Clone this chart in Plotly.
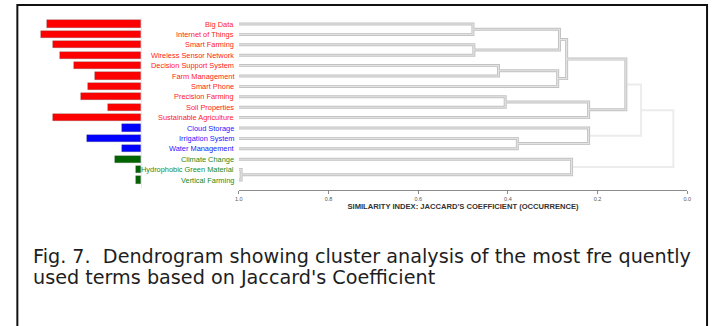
import plotly.graph_objects as go

W, H = 715, 326

# ---------------- data ----------------
terms = ["Big Data", "Internet of Things", "Smart Farming", "Wireless Sensor Network",
         "Decision Support System", "Farm Management", "Smart Phone", "Precision Farming",
         "Soil Properties", "Sustainable Agriculture", "Cloud Storage", "Irrigation System",
         "Water Management", "Climate Change", "Hydrophobic Green Material", "Vertical Farming"]
groups = ["red"] * 10 + ["blue"] * 3 + ["green"] * 3
occurrence = [96, 102, 89, 82, 68, 47, 54, 61, 34, 89, 20, 55, 20, 27, 6, 6]

# hierarchical merges (leaves 0..15, new clusters numbered 16..)
merge_left = [0, 2, 4, 16, 18, 19, 7, 22, 21, 11, 10, 24, 14, 13, 27]
merge_right = [1, 3, 5, 17, 6, 20, 8, 9, 23, 12, 25, 26, 15, 28, 29]
merge_sim = [0.478, 0.476, 0.421, 0.285, 0.289, 0.269, 0.406, 0.220, 0.137,
             0.379, 0.220, 0.103, 0.995, 0.258, 0.031]
merge_faint = [False] * 11 + [True, False, False, True]

sim_ticks = [1.0, 0.8, 0.6, 0.4, 0.2, 0.0]
tick_text = ["1.0", "0.8", "0.6", "0.4", "0.2", "0.0"]

caption_lines = ["Fig. 7.  Dendrogram showing cluster analysis of the most fre quently",
                 "used terms based on Jaccard's Coefficient"]

bar_colors = {"red": "#ff0000", "blue": "#0000ff", "green": "#006400"}
label_colors = {"red": "#ff2020", "blue": "#2020ff", "green": "#1a8a1a"}

# ---------------- layout geometry ----------------
row0, pitch = 24.0, 10.4
y_top = -row0 / pitch
y_bot = (H - row0) / pitch

fig = go.Figure()

idx = list(range(len(terms)))
fig.add_trace(go.Bar(
    x=occurrence, y=idx, orientation="h", xaxis="x", yaxis="y",
    marker=dict(color=[bar_colors[g] for g in groups],
                line=dict(color="rgba(90,90,90,0.45)", width=0.6)),
    width=0.68, hoverinfo="skip", showlegend=False))
fig.add_trace(go.Scatter(x=[0, 0], y=[-0.6, 15.8], mode="lines", xaxis="x", yaxis="y",
                         line=dict(color="#cccccc", width=1), hoverinfo="skip", showlegend=False))

n = len(terms)
pos = {i: float(i) for i in range(n)}
hgt = {i: 1.0 for i in range(n)}
seg_x = {False: [], True: []}
seg_y = {False: [], True: []}
for k, (a, b, s, f) in enumerate(zip(merge_left, merge_right, merge_sim, merge_faint)):
    c = n + k
    seg_x[f] += [hgt[a], s, s, hgt[b], None]
    seg_y[f] += [pos[a], pos[a], pos[b], pos[b], None]
    pos[c] = (pos[a] + pos[b]) / 2
    hgt[c] = s

fig.add_trace(go.Scatter(x=seg_x[True], y=seg_y[True], mode="lines", xaxis="x2", yaxis="y",
                         line=dict(color="#ececec", width=2), hoverinfo="skip", showlegend=False))
fig.add_trace(go.Scatter(x=seg_x[False], y=seg_y[False], mode="lines", xaxis="x2", yaxis="y",
                         line=dict(color="#c2c2c2", width=3), hoverinfo="skip", showlegend=False))
fig.add_trace(go.Scatter(x=seg_x[False], y=seg_y[False], mode="lines", xaxis="x2", yaxis="y",
                         line=dict(color="#e4e4e4", width=1.1), hoverinfo="skip", showlegend=False))

annotations = []
for i, (t, g) in enumerate(zip(terms, groups)):
    annotations.append(dict(text=t, x=235 / W, xref="paper", y=i, yref="y",
                            xanchor="right", yanchor="middle", showarrow=False,
                            font=dict(family="Liberation Sans, Arial", size=7.4,
                                      color=label_colors[g])))

for line, base in zip(caption_lines, [261.5, 283.0]):
    annotations.append(dict(
        text=line, x=27 / W, xref="paper", y=1 - (base - 5.5) / H, yref="paper",
        xanchor="left", yanchor="middle", align="left", showarrow=False,
        font=dict(family="DejaVu Sans", size=19.2, color="#1e1e1e")))

fig.update_layout(
    width=W, height=H, margin=dict(l=0, r=0, t=0, b=0),
    paper_bgcolor="white", plot_bgcolor="rgba(0,0,0,0)",
    showlegend=False, bargap=0,
    xaxis=dict(domain=[0, 139 / W], range=[139, 0], visible=False, fixedrange=True),
    xaxis2=dict(domain=[237.5 / W, 691 / W], range=[1, 0], anchor="free",
                position=1 - 190 / H, showline=True, linecolor="#8a8a8a", linewidth=1,
                ticks="outside", ticklen=3, tickcolor="#8a8a8a", showgrid=False,
                zeroline=False, tickvals=sim_ticks, ticktext=tick_text,
                tickfont=dict(family="Liberation Sans, Arial", size=5.5, color="#555"),
                title=dict(text="<b>SIMILARITY INDEX: JACCARD'S COEFFICIENT (OCCURRENCE)</b>",
                           font=dict(family="Liberation Sans, Arial", size=7.6, color="#333"),
                           standoff=3),
                fixedrange=True),
    yaxis=dict(domain=[0, 1], range=[y_bot, y_top], visible=False, fixedrange=True),
    shapes=[dict(type="rect", xref="paper", yref="paper",
                 x0=13.5 / W, x1=711 / W, y0=-0.05, y1=1 - 5 / H,
                 line=dict(color="#111", width=2))],
    annotations=annotations,
)

fig.write_html("out.html", post_script="document.body.style.margin='0px';",
               config={"displayModeBar": False})
